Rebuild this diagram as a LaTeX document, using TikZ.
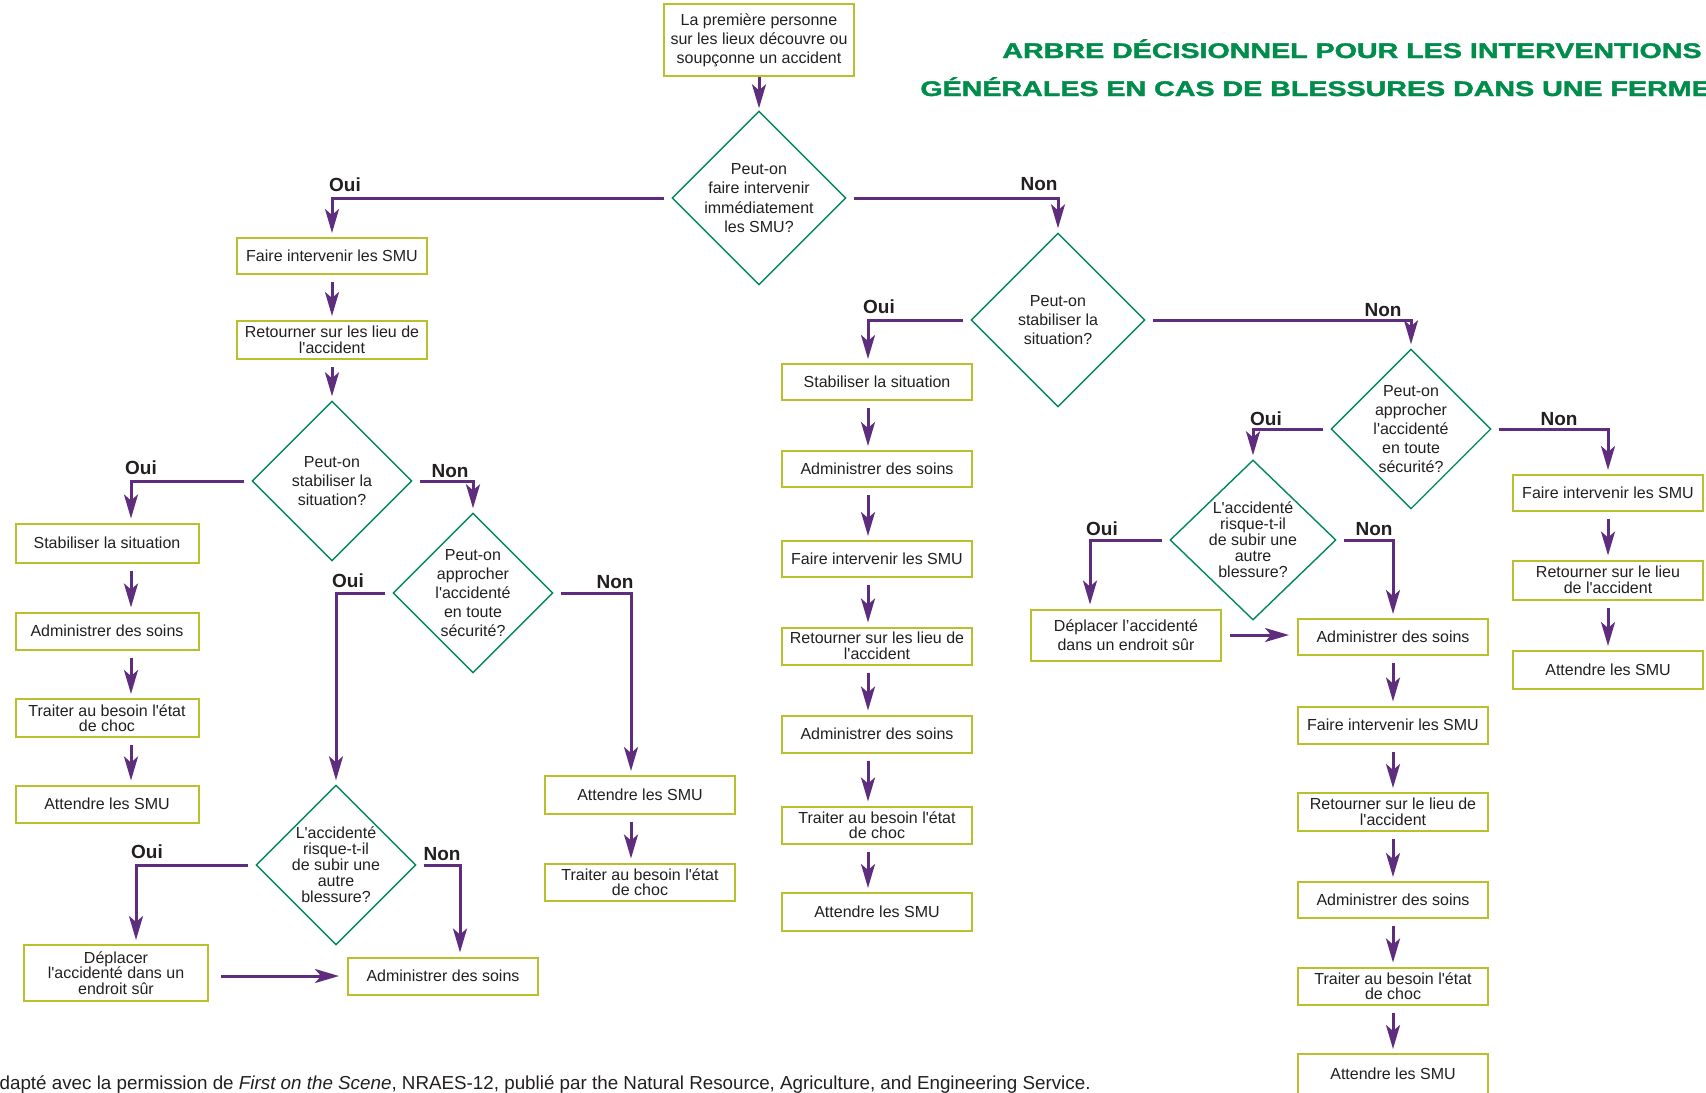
\documentclass[tikz,border=0pt]{standalone}
\usepackage{fontspec}
\setmainfont{Liberation Sans}
\newfontfamily\heavyfont{Liberation Sans Bold}[FakeBold=1.6]
\usetikzlibrary{arrows.meta,shapes.geometric}

\definecolor{boxc}{RGB}{184,192,44}
\definecolor{diac}{RGB}{0,135,90}
\definecolor{arrc}{RGB}{95,45,125}
\definecolor{titlec}{RGB}{0,140,75}
\definecolor{txt}{RGB}{35,31,32}
\newcommand{\q}{\textquotesingle}

\begin{document}
\begin{tikzpicture}[x=0.5pt,y=-0.5pt,
    box/.style={draw=boxc,line width=1pt,minimum width=95pt,minimum height=18pt,inner sep=1pt,
      align=center,text=txt,font=\fontsize{8}{7.8}\selectfont},
    dia/.style={draw=diac,line width=0.7pt,diamond,minimum width=80pt,minimum height=80pt,inner sep=0pt},
    dtxt/.style={align=center,text=txt,inner sep=0pt,font=\fontsize{8}{9.6}\selectfont},
    rtxt/.style={align=center,text=txt,inner sep=0pt,font=\fontsize{8}{8}\selectfont},
    arr/.style={draw=arrc,line width=1.5pt,shorten <=3.5pt,shorten >=2pt,
      -{Stealth[length=12pt,width=7pt,inset=3pt]}},
    lab/.style={text=txt,inner sep=0pt,font=\bfseries\fontsize{9.5}{10}\selectfont},
    ttl/.style={text=titlec,inner sep=0pt,font=\heavyfont\fontsize{10.6}{12}\selectfont},
    foot/.style={text=txt,inner sep=0pt,font=\fontsize{9.4}{10}\selectfont}]
  \useasboundingbox (0,0) rectangle (1706,1092);
  \clip (0,0) rectangle (1706,1092);

  % titre
  \node[ttl,anchor=base west] (t1) at (1002,58) {\scalebox{1.35}[1]{ARBRE DÉCISIONNEL POUR LES INTERVENTIONS}};
  \node[ttl,anchor=base west] (t2) at (920,96) {\scalebox{1.35}[1]{GÉNÉRALES EN CAS DE BLESSURES DANS UNE FERME}};

  % colonnes des fleches
  \coordinate (cL) at (131,0);
  \coordinate (cQ) at (136,0);
  \coordinate (cN) at (460,0);
  \coordinate (cM) at (631,0);
  \coordinate (cC) at (868,0);
  \coordinate (cS) at (1090,0);

  % depart
  \node[box,minimum height=36pt,font=\fontsize{8}{9.5}\selectfont] (top) at (759,40) {La première personne\\sur les lieux découvre ou\\soupçonne un accident};
  \node[dia,minimum size=87pt,label={[dtxt]center:{Peut-on\\faire intervenir\\immédiatement\\les SMU?}}] (d1) at (759,198) {};

  % branche gauche
  \node[box] (b1) at (332,256) {Faire intervenir les SMU};
  \node[box,minimum height=19pt] (b2) at (332,340) {Retourner sur les lieu de\\l\q accident};
  \node[dia,label={[dtxt]center:{Peut-on\\stabiliser la\\situation?}}] (dl1) at (332,481) {};
  \node[box,minimum width=91.5pt,minimum height=19.5pt] (l1) at (107,543) {Stabiliser la situation};
  \node[box,minimum width=91.5pt,minimum height=18.5pt] (l2) at (107,631) {Administrer des soins};
  \node[box,minimum width=91.5pt,minimum height=19pt] (l3) at (107,718) {Traiter au besoin l\q état\\de choc};
  \node[box,minimum width=91.5pt,minimum height=18.5pt] (l4) at (107,804) {Attendre les SMU};
  \node[dia,label={[dtxt]center:{Peut-on\\approcher\\l\q accidenté\\en toute\\sécurité?}}] (dl2) at (473,593) {};
  \node[box,minimum height=19pt] (m1) at (640,795) {Attendre les SMU};
  \node[box,minimum height=18.5pt] (m2) at (640,882) {Traiter au besoin l\q état\\de choc};
  \node[dia,label={[rtxt]center:{L\q accidenté\\risque-t-il\\de subir une\\autre\\blessure?}}] (dl3) at (336,865) {};
  \node[box,minimum width=92pt,minimum height=28pt] (q1) at (116,973) {Déplacer\\l\q accidenté dans un\\endroit sûr};
  \node[box,minimum height=18.5pt] (q2) at (443,976) {Administrer des soins};

  % branche centrale
  \node[dia,minimum size=87pt,label={[dtxt]center:{Peut-on\\stabiliser la\\situation?}}] (dm1) at (1058,320) {};
  \node[box] (c1) at (877,382) {Stabiliser la situation};
  \node[box] (c2) at (877,469) {Administrer des soins};
  \node[box] (c3) at (877,559) {Faire intervenir les SMU};
  \node[box,minimum height=18.5pt] (c4) at (877,646) {Retourner sur les lieu de\\l\q accident};
  \node[box,minimum height=18.5pt] (c5) at (877,734) {Administrer des soins};
  \node[box,minimum height=18.5pt] (c6) at (877,825) {Traiter au besoin l\q état\\de choc};
  \node[box,minimum height=19pt] (c7) at (877,912) {Attendre les SMU};

  % branche droite
  \node[dia,label={[dtxt]center:{Peut-on\\approcher\\l\q accidenté\\en toute\\sécurité?}}] (dr1) at (1411,429) {};
  \node[box] (r1) at (1608,493) {Faire intervenir les SMU};
  \node[box,minimum height=19.5pt] (r2) at (1608,580) {Retourner sur le lieu\\de l\q accident};
  \node[box,minimum height=19pt] (r3) at (1608,670) {Attendre les SMU};
  \node[dia,minimum width=83pt,label={[rtxt]center:{L\q accidenté\\risque-t-il\\de subir une\\autre\\blessure?}}] (dr2) at (1253,540) {};
  \node[box,minimum height=25.5pt,font=\fontsize{8}{9.5}\selectfont] (s0) at (1126,635) {Déplacer l'accidenté\\dans un endroit sûr};
  \node[box] (s1) at (1393,637) {Administrer des soins};
  \node[box,minimum height=18.5pt] (s2) at (1393,725) {Faire intervenir les SMU};
  \node[box,minimum height=19pt] (s3) at (1393,812) {Retourner sur le lieu de\\l\q accident};
  \node[box] (s4) at (1393,900) {Administrer des soins};
  \node[box,minimum height=18.5pt] (s5) at (1393,986) {Traiter au besoin l\q état\\de choc};
  \node[box,minimum height=20pt] (s6) at (1393,1074) {Attendre les SMU};

  % Oui / Non
  \node[lab] (ou1) at (345,185) {Oui};
  \node[lab] (no1) at (1039,184) {Non};
  \node[lab] (ou2) at (141,468) {Oui};
  \node[lab] (no2) at (450,471) {Non};
  \node[lab] (ou3) at (348,581) {Oui};
  \node[lab] (no3) at (615,582) {Non};
  \node[lab] (ou4) at (147,852) {Oui};
  \node[lab] (no4) at (442,854) {Non};
  \node[lab] (ou5) at (879,307) {Oui};
  \node[lab] (no5) at (1383,310) {Non};
  \node[lab] (ou6) at (1266,419) {Oui};
  \node[lab] (no6) at (1559,419) {Non};
  \node[lab] (ou7) at (1102,529) {Oui};
  \node[lab] (no7) at (1374,529) {Non};

  % fleches
  \draw[arr,shorten <=0pt,shorten >=1pt] (top.south) -- (d1.north);
  \draw[arr] (d1.west) -| (b1.north);
  \draw[arr] (d1.east) -| (dm1.north);
  \draw[arr] (b1.south) -- (b2.north);
  \draw[arr] (b2.south) -- (dl1.north);
  \draw[arr] (dl1.west) -| (l1.north -| cL);
  \foreach \a/\b in {l1/l2,l2/l3,l3/l4}
    \draw[arr] (\a.south -| cL) -- (\b.north -| cL);
  \draw[arr] (dl1.east) -| (dl2.north);
  \draw[arr] (dl2.west) -| (dl3.north);
  \draw[arr] (dl2.east) -| (m1.north -| cM);
  \draw[arr] (m1.south -| cM) -- (m2.north -| cM);
  \draw[arr] (dl3.west) -| (q1.north -| cQ);
  \draw[arr] (dl3.east) -| (q2.north -| cN);
  \draw[arr,shorten <=6pt,shorten >=4pt] (q1.east |- q2) -- (q2.west);

  \draw[arr] (dm1.west) -| (c1.north -| cC);
  \foreach \a/\b in {c1/c2,c2/c3,c3/c4,c4/c5,c5/c6,c6/c7}
    \draw[arr] (\a.south -| cC) -- (\b.north -| cC);
  \draw[arr] (dm1.east) -| (dr1.north);
  \draw[arr] (dr1.east) -| (r1.north);
  \foreach \a/\b in {r1/r2,r2/r3}
    \draw[arr] (\a.south) -- (\b.north);
  \draw[arr] (dr1.west) -| (dr2.north);
  \draw[arr] (dr2.west) -| (s0.north -| cS);
  \draw[arr] (dr2.east) -| (s1.north);
  \draw[arr,shorten <=4pt,shorten >=4pt] (s0.east) -- (s1.west |- s0.east);
  \foreach \a/\b in {s1/s2,s2/s3,s3/s4,s4/s5,s5/s6}
    \draw[arr] (\a.south) -- (\b.north);

  % source
  \node[foot,anchor=base east] (src) at (1091,1089) {Adapté avec la permission de \textit{First on the Scene}, NRAES-12, publié par the Natural Resource, Agriculture, and Engineering Service.};
\end{tikzpicture}
\end{document}
